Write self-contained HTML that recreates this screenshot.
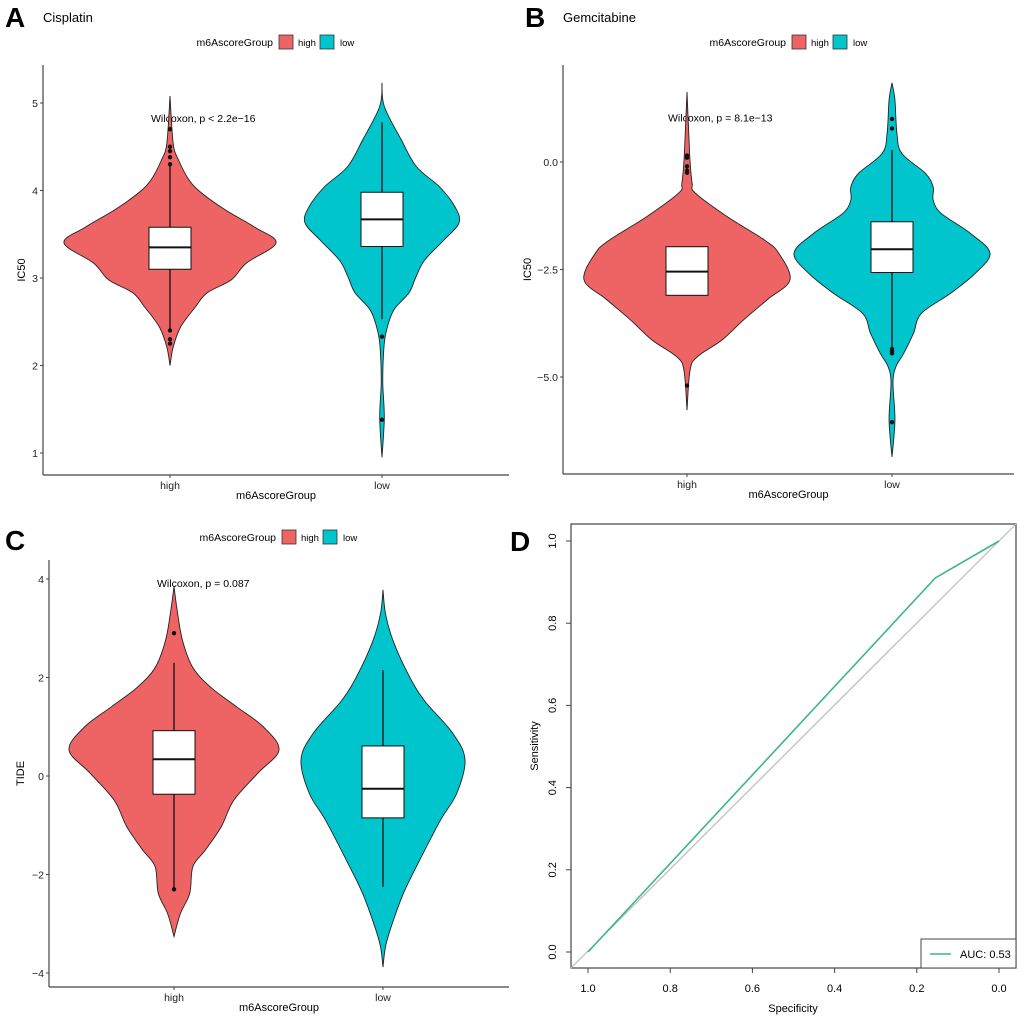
<!DOCTYPE html>
<html><head><meta charset="utf-8"><style>
body{margin:0;background:#fff;}
svg{display:block;font-family:"Liberation Sans",Arial,sans-serif;}
</style></head><body>
<svg id="fig" width="1020" height="1018" viewBox="0 0 1020 1018"></svg>
<script>
// ===== Data =====
const groups = ["high","low"];
// Panel A (Cisplatin IC50)
const aTicks = [1,2,3,4,5];
const aHighDensY = [5.08,4.54,4.35,4.12,3.97,3.78,3.58,3.4,3.17,2.98,2.83,2.67,2.44,2.21,2.0];
const aHighDensW = [0,0.03,0.08,0.18,0.3,0.52,0.8,1,0.72,0.58,0.35,0.24,0.1,0.03,0];
const aLowDensY = [5.23,4.96,4.58,4.27,4.04,3.81,3.63,3.43,3.2,3.01,2.83,2.63,2.37,2.14,1.8,1.4,0.95];
const aLowDensW = [0,0.03,0.25,0.45,0.75,0.95,1,0.8,0.55,0.44,0.35,0.15,0.05,0.02,0.01,0.03,0];
const aHighBox = [2.38,3.1,3.35,3.58,4.3];
const aLowBox = [2.53,3.36,3.67,3.98,4.78];
const aHighOut = [4.7,4.5,4.45,4.38,4.3,2.4,2.3,2.25];
const aLowOut = [2.33,1.38];
// Panel B (Gemcitabine IC50)
const bTicks = [-5,-2.5,0];
const bHighDensY = [1.63,0.5,0,-0.5,-0.72,-1.27,-1.81,-2.12,-2.74,-3.2,-3.67,-4.14,-4.53,-4.84,-5.77];
const bHighDensW = [0,0.02,0.03,0.05,0.08,0.39,0.75,0.89,1,0.78,0.55,0.34,0.1,0.03,0];
const bLowDensY = [1.84,1.44,0.67,0.2,-0.26,-0.58,-0.88,-1.19,-1.66,-2.12,-2.59,-3.05,-3.52,-3.98,-4.45,-4.76,-5.14,-6.0,-6.86];
const bLowDensW = [0,0.03,0.05,0.1,0.34,0.42,0.42,0.5,0.8,1,0.85,0.6,0.3,0.22,0.12,0.04,0.01,0.03,0];
const bHighBox = [-0.35,-3.1,-2.55,-1.97,-0.35];
const bLowBox = [-4.3,-2.57,-2.03,-1.39,0.28];
const bHighOut = [0.15,0.1,-0.1,-0.2,-0.25,-5.2];
const bLowOut = [1.0,0.78,-4.35,-4.4,-4.45,-6.05];
// Panel C (TIDE)
const cTicks = [-4,-2,0,2,4];
const cHighDensY = [3.85,3.37,2.76,2.2,1.8,1.4,1.0,0.53,0.06,-0.49,-1.03,-1.5,-1.84,-2.38,-2.8,-3.26];
const cHighDensW = [0,0.03,0.08,0.18,0.35,0.6,0.85,1,0.8,0.57,0.45,0.3,0.18,0.15,0.06,0];
const cLowDensY = [3.78,3.3,2.76,2.09,1.54,0.87,0.33,-0.35,-0.9,-1.7,-2.38,-3.06,-3.47,-3.88];
const cLowDensW = [0,0.03,0.12,0.3,0.5,0.85,1,0.9,0.7,0.45,0.25,0.1,0.03,0];
const cHighBox = [-2.3,-0.37,0.34,0.92,2.3];
const cLowBox = [-2.25,-0.85,-0.26,0.61,2.15];
const cHighOut = [2.9,-2.3];
const cLowOut = [];
// Panel D (ROC)
const rocSpec = [1,0.155,0];
const rocSens = [0,0.91,1];
const rocTicks = [0,0.2,0.4,0.6,0.8,1.0];
const aucText = "AUC: 0.53";

const NS="http://www.w3.org/2000/svg";
const svg=document.getElementById('fig');
function el(tag,attrs,parent){const e=document.createElementNS(NS,tag);for(const k in attrs)e.setAttribute(k,attrs[k]);(parent||svg).appendChild(e);return e;}
function txt(s,attrs,parent){const e=el('text',attrs,parent);e.textContent=s;return e;}
const RED="#EE6363", CYAN="#00C5CD";

function spline(pts){
  let d="M"+pts[0][0]+","+pts[0][1];
  for(let i=0;i<pts.length-1;i++){
    const p0=pts[i-1]||pts[i],p1=pts[i],p2=pts[i+1],p3=pts[i+2]||p2;
    const c1=[p1[0]+(p2[0]-p0[0])/6,p1[1]+(p2[1]-p0[1])/6];
    const c2=[p2[0]-(p3[0]-p1[0])/6,p2[1]-(p3[1]-p1[1])/6];
    d+=" C"+c1[0]+","+c1[1]+" "+c2[0]+","+c2[1]+" "+p2[0]+","+p2[1];
  }
  return d;
}

function panel(cfg){
  const g=el('g',{});
  
  
  const y=v=>cfg.y0+(cfg.v0-v)*cfg.k;
  const L=txt(cfg.letter,{x:cfg.letterX,y:cfg.letterY,'font-size':28,'font-weight':'bold'},g);
  
  if(cfg.title){const t=txt(cfg.title,{x:cfg.titleX,y:cfg.letterY-5,'font-size':13},g);
    }
  const lg=el('g',{},g);
  txt('m6AscoreGroup',{x:cfg.legX,y:cfg.legY+4,'font-size':10.5,'text-anchor':'end'},lg);
  el('rect',{x:cfg.legX+6,y:cfg.legY-7,width:14,height:14,fill:RED,stroke:'#333','stroke-width':0.8},lg);
  txt('high',{x:cfg.legX+25,y:cfg.legY+4,'font-size':9.5},lg);
  el('rect',{x:cfg.legX+47,y:cfg.legY-7,width:14,height:14,fill:CYAN,stroke:'#333','stroke-width':0.8},lg);
  txt('low',{x:cfg.legX+67,y:cfg.legY+4,'font-size':9.5},lg);
  el('line',{x1:cfg.ax,y1:cfg.top,x2:cfg.ax,y2:cfg.bot,stroke:'#444','stroke-width':1.2},g);
  el('line',{x1:cfg.ax,y1:cfg.bot,x2:cfg.right,y2:cfg.bot,stroke:'#444','stroke-width':1.2},g);
  cfg.ticks.forEach(t=>{
    el('line',{x1:cfg.ax-3,y1:y(t),x2:cfg.ax,y2:y(t),stroke:'#444'},g);
    const tl=txt(cfg.fmt(t),{x:cfg.ax-5,y:y(t)+4,'font-size':10.5,'text-anchor':'end',fill:'#222'},g);
    
  });
  const yt=txt(cfg.ylab,{x:0,y:0,'font-size':11,'text-anchor':'middle',transform:`translate(${cfg.ax-cfg.ytOff},${(cfg.top+cfg.bot)/2}) rotate(-90)`},g);
  
  const xt=txt('m6AscoreGroup',{x:(cfg.ax+cfg.right)/2,y:cfg.bot+24,'font-size':11,'text-anchor':'middle'},g);
  
  const w=txt(cfg.wil,{x:cfg.wilX,y:y(cfg.wilV)+4,'font-size':10.5},g);
  
  cfg.series.forEach((s,i)=>{
    const cx=cfg.cx[i];
    el('line',{x1:cx,y1:cfg.bot,x2:cx,y2:cfg.bot+3,stroke:'#444'},g);
    const xl=txt(groups[i],{x:cx,y:cfg.bot+14,'font-size':10.5,'text-anchor':'middle',fill:'#222'},g);
    
    const R=s.dy.map((v,j)=>[cx+s.dw[j]*s.max,y(v)]);
    const Lp=s.dy.map((v,j)=>[cx-s.dw[j]*s.max,y(v)]).reverse();
    let d=spline(R)+" L"+spline(Lp).slice(1)+" Z";
    const vp=el('path',{d:d,fill:s.color,stroke:'#222','stroke-width':0.9},g);
    
    const b=s.box;
    el('line',{x1:cx,y1:y(b[0]),x2:cx,y2:y(b[4]),stroke:'#111','stroke-width':1.3},g);
    const br=el('rect',{x:cx-21,y:y(b[3]),width:42,height:y(b[1])-y(b[3]),fill:'#fff',stroke:'#111','stroke-width':1},g);
    
    el('line',{x1:cx-21,y1:y(b[2]),x2:cx+21,y2:y(b[2]),stroke:'#111','stroke-width':2},g);
    s.out.forEach(o=>{const c=el('circle',{cx:cx,cy:y(o),r:2.2,fill:'#111'},g);
      });
  });
}

panel({name:'panel-a-cisplatin',letter:'A',letterX:5,letterY:27,title:'Cisplatin',titleX:43,legX:273,legY:42,
  ax:43,top:65,bot:475,right:509,y0:453,v0:1,k:87.5,ticks:aTicks,fmt:t=>String(t),ylab:'IC50',ytOff:18,
  wil:'Wilcoxon, p < 2.2e\u221216',wilX:151,wilV:4.83,cx:[170,382],
  series:[{dy:aHighDensY,dw:aHighDensW,max:106,color:RED,box:aHighBox,out:aHighOut},
          {dy:aLowDensY,dw:aLowDensW,max:77,color:CYAN,box:aLowBox,out:aLowOut}]});
panel({name:'panel-b-gemcitabine',letter:'B',letterX:525,letterY:27,title:'Gemcitabine',titleX:563,legX:786,legY:42,
  ax:563,top:65,bot:474,right:1014,y0:162,v0:0,k:43,ticks:bTicks,fmt:t=>t.toFixed(1).replace('-','\u2212'),ylab:'IC50',ytOff:32,
  wil:'Wilcoxon, p = 8.1e\u221213',wilX:668,wilV:1.04,cx:[687,892],
  series:[{dy:bHighDensY,dw:bHighDensW,max:103,color:RED,box:bHighBox,out:bHighOut},
          {dy:bLowDensY,dw:bLowDensW,max:98,color:CYAN,box:bLowBox,out:bLowOut}]});
panel({name:'panel-c-tide',letter:'C',letterX:5,letterY:550,title:'',titleX:0,legX:276,legY:537,
  ax:49,top:560,bot:987,right:509,y0:776,v0:0,k:49.25,ticks:cTicks,fmt:t=>String(t).replace('-','\u2212'),ylab:'TIDE',ytOff:25,
  wil:'Wilcoxon, p = 0.087',wilX:157,wilV:3.92,cx:[174,383],
  series:[{dy:cHighDensY,dw:cHighDensW,max:105,color:RED,box:cHighBox,out:cHighOut},
          {dy:cLowDensY,dw:cLowDensW,max:82,color:CYAN,box:cLowBox,out:cLowOut}]});

(function(){
  const g=el('g',{});
  
  
  const X=s=>588+(1-s)*(999-588), Y=v=>952-v*(952-541);
  txt('D',{x:510,y:551,'font-size':28,'font-weight':'bold'},g);
  el('rect',{x:571,y:524,width:445,height:444,fill:'none',stroke:'#444','stroke-width':1.2},g);
  el('line',{x1:571,y1:968,x2:1016,y2:524,stroke:'#bbb','stroke-width':1.2},g);
  const pts=rocSpec.map((s,i)=>X(s)+','+Y(rocSens[i])).join(' ');
  const pl=el('polyline',{points:pts,fill:'none',stroke:'#3DB58E','stroke-width':1.6},g);
  
  rocTicks.forEach(t=>{
    el('line',{x1:X(t),y1:968,x2:X(t),y2:973,stroke:'#444'},g);
    const a=txt(t.toFixed(1),{x:X(t),y:992,'font-size':11,'text-anchor':'middle'},g);
    
    el('line',{x1:566,y1:Y(t),x2:571,y2:Y(t),stroke:'#444'},g);
    const b=txt(t.toFixed(1),{x:0,y:0,'font-size':11,'text-anchor':'middle',transform:`translate(556,${Y(t)}) rotate(-90)`},g);
    
  });
  const xt=txt('Specificity',{x:793,y:1012,'font-size':11,'text-anchor':'middle'},g);
  
  const yt=txt('Sensitivity',{x:0,y:0,'font-size':11,'text-anchor':'middle',transform:'translate(538,746) rotate(-90)'},g);
  
  const lg=el('g',{},g);
  el('rect',{x:921,y:939,width:95,height:29,fill:'#fff',stroke:'#444','stroke-width':1},lg);
  el('line',{x1:930,y1:954,x2:951,y2:954,stroke:'#3DB58E','stroke-width':1.6},lg);
  txt(aucText,{x:960,y:958,'font-size':11},lg);
})();
</script>
</body></html>
